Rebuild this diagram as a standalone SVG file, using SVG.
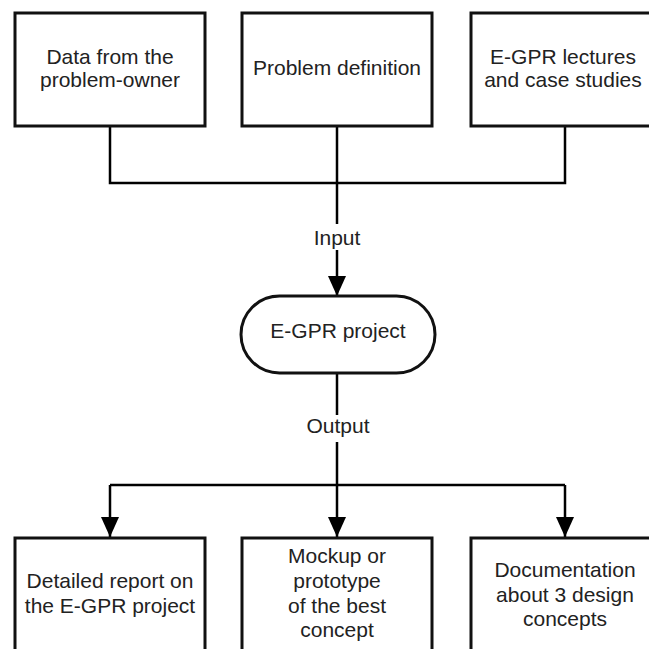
<svg xmlns="http://www.w3.org/2000/svg" width="649" height="649" viewBox="0 0 649 649">
<defs>
<style>
.box{fill:#fff;stroke:#111;stroke-width:3}
.t{font-family:"Liberation Sans",Arial,sans-serif;font-size:21px;fill:#222;text-anchor:middle}
.c{fill:none;stroke:#000;stroke-width:2.5}
.lbl{fill:#fff}
</style>
<marker id="ah" markerWidth="20" markerHeight="18" refX="20" refY="9" orient="auto" markerUnits="userSpaceOnUse" viewBox="0 0 20 18">
<path d="M0,0 L20,9 L0,18 Z" fill="#000"/>
</marker>
</defs>
<rect width="649" height="649" fill="#fff"/>
<g id="connectors">
<path class="c" d="M110,126 V183 H565 V126 M337,126 V183"/>
<path class="c" d="M337,183 V296" marker-end="url(#ah)"/>
<path class="c" d="M337,373 V485 M110,485 H565"/>
<path class="c" d="M110,485 V537" marker-end="url(#ah)"/>
<path class="c" d="M337,485 V537" marker-end="url(#ah)"/>
<path class="c" d="M565,485 V537" marker-end="url(#ah)"/>
<rect class="lbl" x="310" y="224" width="54" height="26"/>
<text class="t" x="337" y="245">Input</text>
<rect class="lbl" x="302" y="415" width="72" height="27"/>
<text class="t" x="338" y="433">Output</text>
</g>
<g id="n1">
<rect class="box" x="15" y="13" width="190" height="113"/>
<text class="t" x="110" y="64">Data from the</text>
<text class="t" x="110" y="87">problem-owner</text>
</g>
<g id="n2">
<rect class="box" x="242" y="13" width="190" height="113"/>
<text class="t" x="337" y="75">Problem definition</text>
</g>
<g id="n3">
<rect class="box" x="471" y="13" width="190" height="113"/>
<text class="t" x="563" y="64">E-GPR lectures</text>
<text class="t" x="563" y="87">and case studies</text>
</g>
<g id="n4">
<rect class="box" x="241" y="296" width="194" height="77" rx="38.5" ry="38.5"/>
<text class="t" x="338" y="338">E-GPR project</text>
</g>
<g id="n5">
<rect class="box" x="15" y="538" width="190" height="113"/>
<text class="t" x="110" y="588">Detailed report on</text>
<text class="t" x="110" y="613">the E-GPR project</text>
</g>
<g id="n6">
<rect class="box" x="242" y="538" width="190" height="113"/>
<text class="t" x="337" y="563">Mockup or</text>
<text class="t" x="337" y="588">prototype</text>
<text class="t" x="337" y="613">of the best</text>
<text class="t" x="337" y="637">concept</text>
</g>
<g id="n7">
<rect class="box" x="471" y="538" width="190" height="113"/>
<text class="t" x="565" y="577">Documentation</text>
<text class="t" x="565" y="602">about 3 design</text>
<text class="t" x="565" y="626">concepts</text>
</g>
</svg>
